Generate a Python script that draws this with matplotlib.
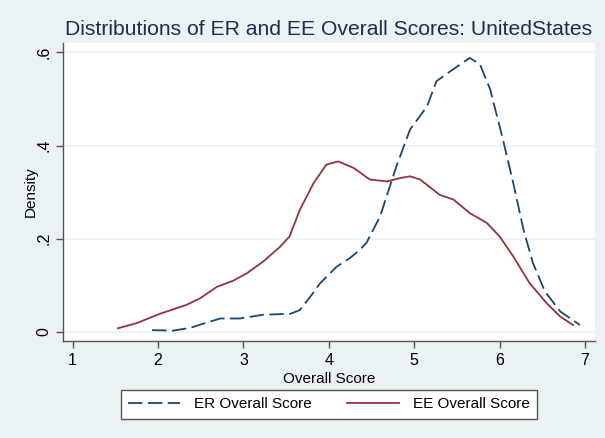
import matplotlib.pyplot as plt

# ER overall score density (dashed navy)
er_x = [1.93, 2.18, 2.38, 2.55, 2.73, 2.96, 3.23, 3.55, 3.66, 3.78, 3.90, 4.09, 4.25,
        4.36, 4.44, 4.60, 4.79, 4.95, 5.15, 5.26, 5.42, 5.65, 5.77, 5.89, 6.04, 6.16,
        6.28, 6.39, 6.53, 6.71, 6.94]
er_y = [0.004, 0.003, 0.009, 0.019, 0.029, 0.029, 0.037, 0.039, 0.047, 0.075, 0.105, 0.140, 0.159,
        0.176, 0.191, 0.248, 0.355, 0.434, 0.484, 0.538, 0.559, 0.588, 0.574, 0.520, 0.412, 0.319,
        0.219, 0.148, 0.087, 0.044, 0.015]

# EE overall score density (solid maroon)
ee_x = [1.53, 1.75, 2.02, 2.33, 2.49, 2.69, 2.88, 3.04, 3.23, 3.43, 3.54, 3.66, 3.82,
        3.97, 4.11, 4.29, 4.48, 4.68, 4.83, 4.95, 5.07, 5.30, 5.46, 5.65, 5.85, 6.00,
        6.16, 6.35, 6.55, 6.71, 6.86]
ee_y = [0.008, 0.019, 0.039, 0.058, 0.072, 0.097, 0.110, 0.126, 0.151, 0.183, 0.205, 0.262, 0.319,
        0.359, 0.366, 0.352, 0.327, 0.323, 0.330, 0.334, 0.327, 0.294, 0.284, 0.255, 0.234, 0.205,
        0.162, 0.105, 0.062, 0.033, 0.015]

xticks = [1, 2, 3, 4, 5, 6, 7]
yticks = [0, 0.2, 0.4, 0.6]
ylabels = ['0', '.2', '.4', '.6']

bg = '#eaf2f3'
plt.rcParams['font.family'] = ['Liberation Sans', 'DejaVu Sans']

fig = plt.figure(figsize=(6.05, 4.38), dpi=100, facecolor=bg)
ax = fig.add_axes([0.1046, 0.2215, 0.8789, 0.681])
ax.set_facecolor('white')

ax.plot(er_x, er_y, color='#1a476f', lw=1.3, dashes=(8, 3), label='ER Overall Score')
ax.plot(ee_x, ee_y, color='#90353b', lw=1.3, label='EE Overall Score')

ax.set_xlim(0.89, 7.117)
ax.set_ylim(-0.0193, 0.6206)
ax.set_xticks(xticks)
ax.set_yticks(yticks)
ax.set_yticklabels(ylabels, rotation=90, va='center')
ax.grid(axis='y', color=bg, lw=1.2)
ax.set_axisbelow(True)
for s in ['top', 'right']:
    ax.spines[s].set_visible(False)
for s in ['left', 'bottom']:
    ax.spines[s].set_color('#555555')
    ax.spines[s].set_linewidth(1.0)
ax.tick_params(colors='#555555', labelcolor='black', length=5, width=1.0, labelsize=11.5)

ax.set_xlabel('Overall Score', fontsize=11, labelpad=3)
ax.set_ylabel('Density', fontsize=11, labelpad=-1)
fig.text(0.543, 0.932, 'Distributions of ER and EE Overall Scores: UnitedStates',
         ha='center', va='center', fontsize=15.2, color='#1e2d50')

leg = fig.legend(loc='center', bbox_to_anchor=(0.5438, 0.0765), ncol=2, fontsize=11,
                 handlelength=3.4, handletextpad=0.9, columnspacing=2.3, fancybox=False,
                 framealpha=1, edgecolor='#555555', borderpad=0.5, borderaxespad=0)
leg.get_frame().set_linewidth(1.0)

fig.savefig('out.png', dpi=100, facecolor=bg)
